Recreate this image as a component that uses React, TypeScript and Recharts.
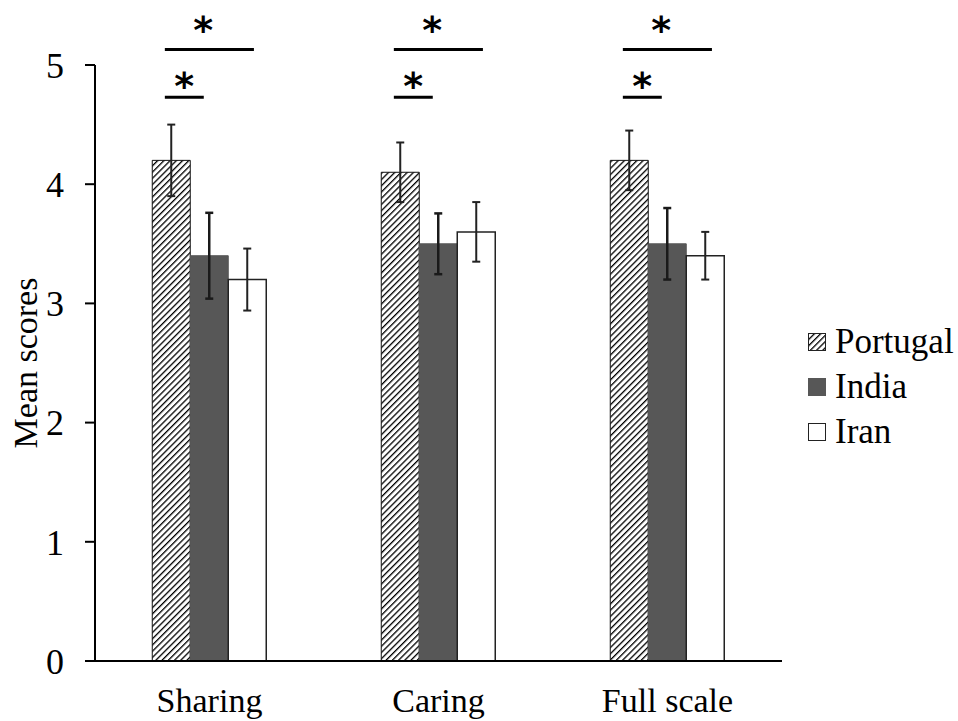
import React from 'react';
import {
  BarChart, Bar, XAxis, YAxis, ErrorBar, Legend, ReferenceLine, ReferenceDot,
} from 'recharts';

const categories = ['Sharing', 'Caring', 'Full scale'];
const seriesNames = ['Portugal', 'India', 'Iran'];
const portugal = [4.2, 4.1, 4.2];
const india = [3.4, 3.5, 3.5];
const iran = [3.2, 3.6, 3.4];
const portugalErr = [0.3, 0.25, 0.25];
const indiaErr = [0.36, 0.255, 0.3];
const iranErr = [0.26, 0.25, 0.2];
const yTicks = [0, 1, 2, 3, 4, 5];
const groupCenters = [0.5, 1.5, 2.5];

// significance brackets (in group-index units and score units)
const bracketStart = [0.305, 1.305, 2.305];
const bracketNearEnd = [0.475, 1.475, 2.475];
const bracketFarEnd = [0.694, 1.694, 2.694];
const bracketNearLevel = 4.73;
const bracketFarLevel = 5.13;
const starNearX = [0.39, 1.39, 2.39];
const starFarX = [0.472, 1.472, 2.472];
const starNearLevel = 4.87;
const starFarLevel = 5.34;

const data = categories.map((c, i) => ({
  name: c,
  gx: groupCenters[i],
  Portugal: portugal[i],
  India: india[i],
  Iran: iran[i],
  pErr: portugalErr[i],
  inErr: indiaErr[i],
  irErr: iranErr[i],
}));

const FONT = "'Liberation Serif', Tinos, 'DejaVu Serif', 'Noto Serif', 'Times New Roman', Times, serif";

const Star = (props: any) => (
  <text
    x={props.cx}
    y={props.cy + 19}
    textAnchor="middle"
    style={{ fontFamily: "'DejaVu Sans', sans-serif", fontWeight: 'bold', fontSize: 38 }}
    fill="#000"
  >
    *
  </text>
);

const renderLegend = () => {
  const fills = ['url(#hatchLeg)', '#575757', '#fff'];
  return (
    <div style={{ fontFamily: FONT, fontSize: 35, color: '#000' }}>
      <svg width={0} height={0} style={{ position: 'absolute' }}>
        <defs>
          <pattern id="hatchLeg" patternUnits="userSpaceOnUse" width={4.4} height={4.4} patternTransform="rotate(45)">
            <rect width={4.4} height={4.4} fill="#fff" />
            <line x1={0} y1={0} x2={0} y2={4.4} stroke="#000" strokeWidth={2.6} />
          </pattern>
        </defs>
      </svg>
      {seriesNames.map((n, i) => (
        <div key={n} style={{ display: 'flex', alignItems: 'center', height: 45, lineHeight: '45px' }}>
          <svg width={18} height={18} style={{ marginRight: 9 }}>
            <rect x={0.5} y={0.5} width={17} height={17} fill={fills[i]} stroke={i === 1 ? '#575757' : '#222'} strokeWidth={1} />
          </svg>
          <span style={{ fontFamily: FONT }}>{n}</span>
        </div>
      ))}
    </div>
  );
};

const YLabel = (props: any) => {
  const vb = props.viewBox || {};
  const cy = (vb.y || 0) + (vb.height || 0) / 2;
  const cx = 25;
  return (
    <text
      x={cx}
      y={cy}
      transform={`rotate(-90, ${cx}, ${cy})`}
      textAnchor="middle"
      dominantBaseline="central"
      style={{ fontFamily: FONT, fontSize: 34 }}
      fill="#000"
    >
      Mean scores
    </text>
  );
};

export default function App() {
  return (
    <div style={{ position: 'absolute', left: 0, top: 0, width: 958, height: 721, background: '#fff', fontFamily: FONT }}>
      <BarChart
        width={958}
        height={721}
        data={data}
        margin={{ top: 65, right: 176, bottom: 0, left: 0 }}
        barCategoryGap="25%"
        barGap={0}
        style={{ fontFamily: FONT }}
      >
        <defs>
          <pattern id="hatch" patternUnits="userSpaceOnUse" width={4.4} height={4.4} patternTransform="rotate(45)">
            <rect width={4.4} height={4.4} fill="#fff" />
            <line x1={0} y1={0} x2={0} y2={4.4} stroke="#000" strokeWidth={2.6} />
          </pattern>
        </defs>
        <XAxis
          dataKey="name"
          height={60}
          tickLine={false}
          tickSize={0}
          tickMargin={27}
          axisLine={{ stroke: '#000', strokeWidth: 2 }}
          tick={{ fontSize: 34, fill: '#000', style: { fontFamily: FONT } }}
          interval={0}
        />
        <XAxis
          xAxisId="pos"
          dataKey="gx"
          type="number"
          domain={[0, 3]}
          allowDataOverflow
          hide
          padding={{ left: 0, right: 0 }}
        />
        <YAxis
          width={95}
          domain={[0, 5]}
          ticks={yTicks}
          interval={0}
          tickSize={10}
          tickMargin={21}
          axisLine={{ stroke: '#000', strokeWidth: 2 }}
          tickLine={{ stroke: '#000', strokeWidth: 2 }}
          tick={{ fontSize: 36, fill: '#000', style: { fontFamily: FONT } }}
          label={<YLabel />}
        />
        <Bar dataKey="Portugal" fill="url(#hatch)" stroke="#111" strokeWidth={1} isAnimationActive={false}>
          <ErrorBar dataKey="pErr" width={4} strokeWidth={2} stroke="#222" direction="y" />
        </Bar>
        <Bar dataKey="India" fill="#575757" stroke="#575757" strokeWidth={1} isAnimationActive={false}>
          <ErrorBar dataKey="inErr" width={4} strokeWidth={2.5} stroke="#1a1a1a" direction="y" />
        </Bar>
        <Bar dataKey="Iran" fill="#fff" stroke="#222" strokeWidth={1.5} isAnimationActive={false}>
          <ErrorBar dataKey="irErr" width={4} strokeWidth={2} stroke="#222" direction="y" />
        </Bar>
        {categories.map((c, i) => (
          <ReferenceLine
            key={`near-${c}`}
            xAxisId="pos"
            segment={[{ x: bracketStart[i], y: bracketNearLevel }, { x: bracketNearEnd[i], y: bracketNearLevel }]}
            stroke="#000"
            strokeWidth={3}
            ifOverflow="visible"
          />
        ))}
        {categories.map((c, i) => (
          <ReferenceLine
            key={`far-${c}`}
            xAxisId="pos"
            segment={[{ x: bracketStart[i], y: bracketFarLevel }, { x: bracketFarEnd[i], y: bracketFarLevel }]}
            stroke="#000"
            strokeWidth={3}
            ifOverflow="visible"
          />
        ))}
        {categories.map((c, i) => (
          <ReferenceDot key={`sn-${c}`} xAxisId="pos" x={starNearX[i]} y={starNearLevel} r={0} ifOverflow="visible" shape={Star} />
        ))}
        {categories.map((c, i) => (
          <ReferenceDot key={`sf-${c}`} xAxisId="pos" x={starFarX[i]} y={starFarLevel} r={0} ifOverflow="visible" shape={Star} />
        ))}
        <Legend
          layout="horizontal"
          verticalAlign="middle"
          align="center"
          content={renderLegend}
          wrapperStyle={{ position: 'absolute', left: 808, top: 319, width: 150 }}
        />
      </BarChart>
    </div>
  );
}
